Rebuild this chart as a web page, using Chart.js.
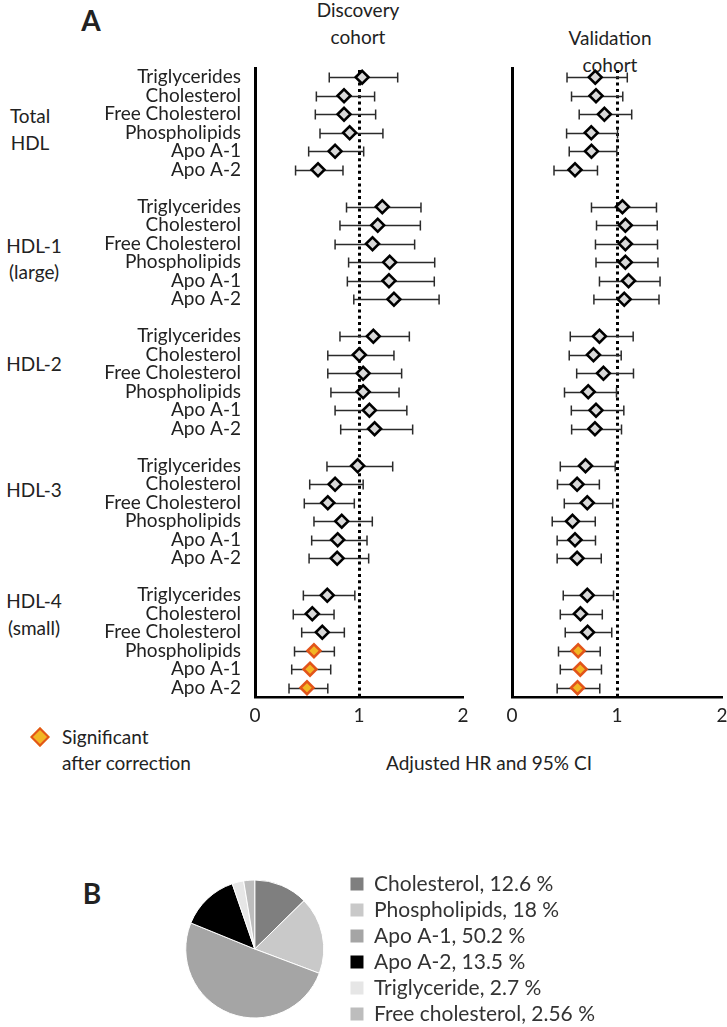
<!DOCTYPE html>
<html>
<head>
<meta charset="utf-8">
<script src="https://cdn.jsdelivr.net/npm/chart.js@4.4.0/dist/chart.umd.min.js"></script>
<style>
  body { margin: 0; background: #fff; font-family: Lato, sans-serif; color: #222; }
  #page { position: relative; width: 727px; height: 1027px; overflow: hidden; }
  .t { position: absolute; font-size: 19px; line-height: 1; white-space: nowrap; transform: translate(-50%, -50%); }
  .l { position: absolute; font-size: 19px; line-height: 1; white-space: nowrap; transform: translate(0, -50%); }
  canvas { position: absolute; }
  .sigmark { position: absolute; width: 10px; height: 10px; background: #f2b624; border: 2.5px solid #e2541a; transform: translate(-50%, -50%) rotate(45deg); }
</style>
</head>
<body>
<div id="page">
  <div class="t" style="left:91px;top:20px;font-size:28px;font-weight:bold;">A</div>
  <div class="t" style="left:92px;top:893px;font-size:28px;font-weight:bold;">B</div>

  <div class="t" style="left:358px;top:9px;">Discovery</div>
  <div class="t" style="left:358px;top:36px;">cohort</div>
  <div class="t" style="left:610px;top:37px;">Validation</div>
  <div class="t" style="left:610px;top:64px;">cohort</div>

  <div class="t" style="left:30px;top:115px;">Total</div>
  <div class="t" style="left:30px;top:142px;">HDL</div>
  <div class="t" style="left:34px;top:245px;">HDL-1</div>
  <div class="t" style="left:34px;top:271px;">(large)</div>
  <div class="t" style="left:34px;top:363px;">HDL-2</div>
  <div class="t" style="left:34px;top:489px;">HDL-3</div>
  <div class="t" style="left:34px;top:600px;">HDL-4</div>
  <div class="t" style="left:34px;top:627px;">(small)</div>

  <div class="sigmark" style="left:40px;top:737px;"></div>
  <div class="l" style="left:62px;top:736px;">Significant</div>
  <div class="l" style="left:62px;top:762px;">after correction</div>
  <div class="t" style="left:489px;top:762px;">Adjusted HR and 95% CI</div>

  <canvas id="discChart" width="480" height="730" style="left:0;top:0;"></canvas>
  <canvas id="valChart" width="250" height="730" style="left:490px;top:0;"></canvas>
  <canvas id="pieChart" width="441" height="180" style="left:164px;top:859px;"></canvas>
</div>

<script>
// ---- data ----
const groups = ["Total HDL", "HDL-1 (large)", "HDL-2", "HDL-3", "HDL-4 (small)"];
const lipids = ["Triglycerides", "Cholesterol", "Free Cholesterol", "Phospholipids", "Apo A-1", "Apo A-2"];

// Discovery cohort, 6 lipids per group, in group order
const discHR = [
  1.03, 0.856, 0.856, 0.91, 0.77, 0.606,
  1.224, 1.18, 1.13, 1.295, 1.288, 1.336,
  1.138, 1.003, 1.04, 1.04, 1.10, 1.15,
  0.987, 0.77, 0.70, 0.834, 0.795, 0.79,
  0.695, 0.551, 0.647, 0.567, 0.529, 0.50];
const discLo = [
  0.714, 0.59, 0.58, 0.625, 0.516, 0.39,
  0.88, 0.817, 0.77, 0.90, 0.888, 0.95,
  0.817, 0.70, 0.70, 0.73, 0.77, 0.824,
  0.692, 0.526, 0.474, 0.567, 0.545, 0.52,
  0.465, 0.368, 0.449, 0.38, 0.353, 0.327];
const discHi = [
  1.372, 1.15, 1.16, 1.23, 1.045, 0.846,
  1.596, 1.59, 1.535, 1.728, 1.724, 1.77,
  1.484, 1.336, 1.41, 1.385, 1.46, 1.516,
  1.324, 1.04, 0.955, 1.128, 1.077, 1.093,
  0.96, 0.76, 0.859, 0.763, 0.728, 0.70];

// Validation cohort
const valHR = [
  0.793, 0.80, 0.88, 0.755, 0.757, 0.60,
  1.052, 1.08, 1.08, 1.08, 1.11, 1.069,
  0.833, 0.776, 0.871, 0.726, 0.80, 0.79,
  0.70, 0.62, 0.717, 0.576, 0.60, 0.62,
  0.717, 0.652, 0.72, 0.63, 0.65, 0.624];
const valLo = [
  0.524, 0.567, 0.64, 0.52, 0.545, 0.40,
  0.757, 0.805, 0.795, 0.80, 0.833, 0.78,
  0.555, 0.545, 0.616, 0.50, 0.565, 0.568,
  0.46, 0.433, 0.498, 0.383, 0.43, 0.43,
  0.488, 0.46, 0.507, 0.443, 0.46, 0.43];
const valHi = [
  1.098, 1.055, 1.14, 1.005, 0.998, 0.814,
  1.376, 1.383, 1.386, 1.39, 1.41, 1.40,
  1.154, 1.04, 1.157, 0.995, 1.065, 1.043,
  0.983, 0.832, 0.96, 0.793, 0.795, 0.85,
  0.967, 0.86, 0.95, 0.84, 0.852, 0.836];

// rows significant after correction (index into the 30 rows above)
const discSig = [27, 28, 29];
const valSig = [27, 28, 29];

const xTicks = [0, 1, 2];

// Pie (panel B)
const pieLabels = ["Cholesterol", "Phospholipids", "Apo A-1", "Apo A-2", "Triglyceride", "Free cholesterol"];
const pieShares = [12.6, 18, 50.2, 13.5, 2.7, 2.56];
const pieColors = ["#7f7f7f", "#c9c9c9", "#a5a5a5", "#000000", "#e6e6e6", "#bdbdbd"];

// ---- layout helpers ----
const FONT = "Lato, sans-serif";
// one blank row between groups
const rowLabels = [];
groups.forEach((g, gi) => {
  lipids.forEach(l => rowLabels.push(l));
  if (gi < groups.length - 1) rowLabels.push("");
});
const rowOf = i => Math.floor(i / lipids.length) * (lipids.length + 1) + (i % lipids.length);

// whiskers + dotted HR = 1 line, drawn under the diamonds
const whiskers = {
  id: "whiskers",
  beforeDatasetsDraw(chart) {
    const { ctx, chartArea, scales: { x, y } } = chart;
    const ds = chart.data.datasets[0];
    ctx.save();
    const x1 = Math.round(x.getPixelForValue(1)) + 0.5;
    ctx.strokeStyle = "#000";
    ctx.lineWidth = 3;
    ctx.setLineDash([3, 3.3]);
    ctx.beginPath();
    ctx.moveTo(x1, chartArea.top + 2);
    ctx.lineTo(x1, chartArea.bottom);
    ctx.stroke();
    ctx.setLineDash([]);
    ctx.strokeStyle = "#2b2b2b";
    ctx.lineWidth = 1.5;
    ds.lo.forEach((lo, i) => {
      const yy = Math.round(y.getPixelForValue(rowOf(i))) + 0.5;
      const xl = x.getPixelForValue(lo);
      const xh = x.getPixelForValue(ds.hi[i]);
      ctx.beginPath();
      ctx.moveTo(xl, yy); ctx.lineTo(xh, yy);
      ctx.moveTo(xl, yy - 5); ctx.lineTo(xl, yy + 5);
      ctx.moveTo(xh, yy - 5); ctx.lineTo(xh, yy + 5);
      ctx.stroke();
    });
    ctx.restore();
  }
};

function forestChart(id, hr, lo, hi, sig, showLabels, yWidth, padRight) {
  const ctx = document.getElementById(id).getContext("2d");
  return new Chart(ctx, {
    type: "scatter",
    data: {
      datasets: [{
        data: hr.map((v, i) => ({ x: v, y: rowOf(i) })),
        lo: lo,
        hi: hi,
        pointStyle: "rectRot",
        pointRadius: 6.5,
        pointHoverRadius: 6.5,
        pointBorderWidth: 2.5,
        pointBackgroundColor: hr.map((v, i) => sig.includes(i) ? "#f2b624" : "#d9d9d9"),
        pointBorderColor: hr.map((v, i) => sig.includes(i) ? "#e2541a" : "#000"),
      }],
    },
    options: {
      responsive: false,
      animation: false,
      layout: { padding: { top: 68, right: padRight, left: 0, bottom: 0 } },
      scales: {
        x: {
          type: "linear",
          min: 0,
          max: 2,
          afterBuildTicks: s => { s.ticks = xTicks.map(v => ({ value: v })); },
          ticks: { color: "#222", font: { family: FONT, size: 19 }, padding: 7 },
          grid: { display: false, drawTicks: false },
          border: { display: true, color: "#000", width: 2.5 },
          afterFit: s => { s.height = 33; },
        },
        y: {
          type: "linear",
          min: -0.5,
          max: rowLabels.length - 0.5,
          reverse: true,
          afterBuildTicks: s => { s.ticks = rowLabels.map((r, i) => ({ value: i })); },
          ticks: {
            display: showLabels,
            autoSkip: false,
            padding: 14,
            color: "#222",
            font: { family: FONT, size: 19 },
            callback: v => rowLabels[v],
          },
          grid: { display: false, drawTicks: false },
          border: { display: true, color: "#000", width: 3 },
          afterFit: s => { s.width = yWidth; },
        },
      },
      plugins: {
        legend: { display: false },
        tooltip: { enabled: false },
      },
    },
    plugins: [whiskers],
  });
}

forestChart("discChart", discHR, discLo, discHi, discSig, true, 255, 17);
forestChart("valChart", valHR, valLo, valHi, valSig, false, 22, 18);

// ---- Panel B: pie ----
const pieCtx = document.getElementById("pieChart").getContext("2d");
new Chart(pieCtx, {
  type: "pie",
  data: {
    labels: pieLabels,
    datasets: [{
      data: pieShares,
      backgroundColor: pieColors,
      borderColor: "#fff",
      borderWidth: 1,
      radius: 69,
    }],
  },
  options: {
    responsive: false,
    animation: false,
    plugins: {
      legend: {
        position: "right",
        align: "center",
        maxWidth: 320,
        labels: {
          boxWidth: 13,
          boxHeight: 13,
          padding: 5,
          color: "#333",
          font: { family: FONT, size: 21 },
          generateLabels: chart => {
            const items = Chart.overrides.pie.plugins.legend.labels.generateLabels(chart);
            items.forEach((it, i) => {
              it.text = pieLabels[i] + ", " + pieShares[i] + " %";
              it.lineWidth = 0;
            });
            return items;
          },
        },
      },
      tooltip: { enabled: false },
    },
  },
});
</script>
</body>
</html>
